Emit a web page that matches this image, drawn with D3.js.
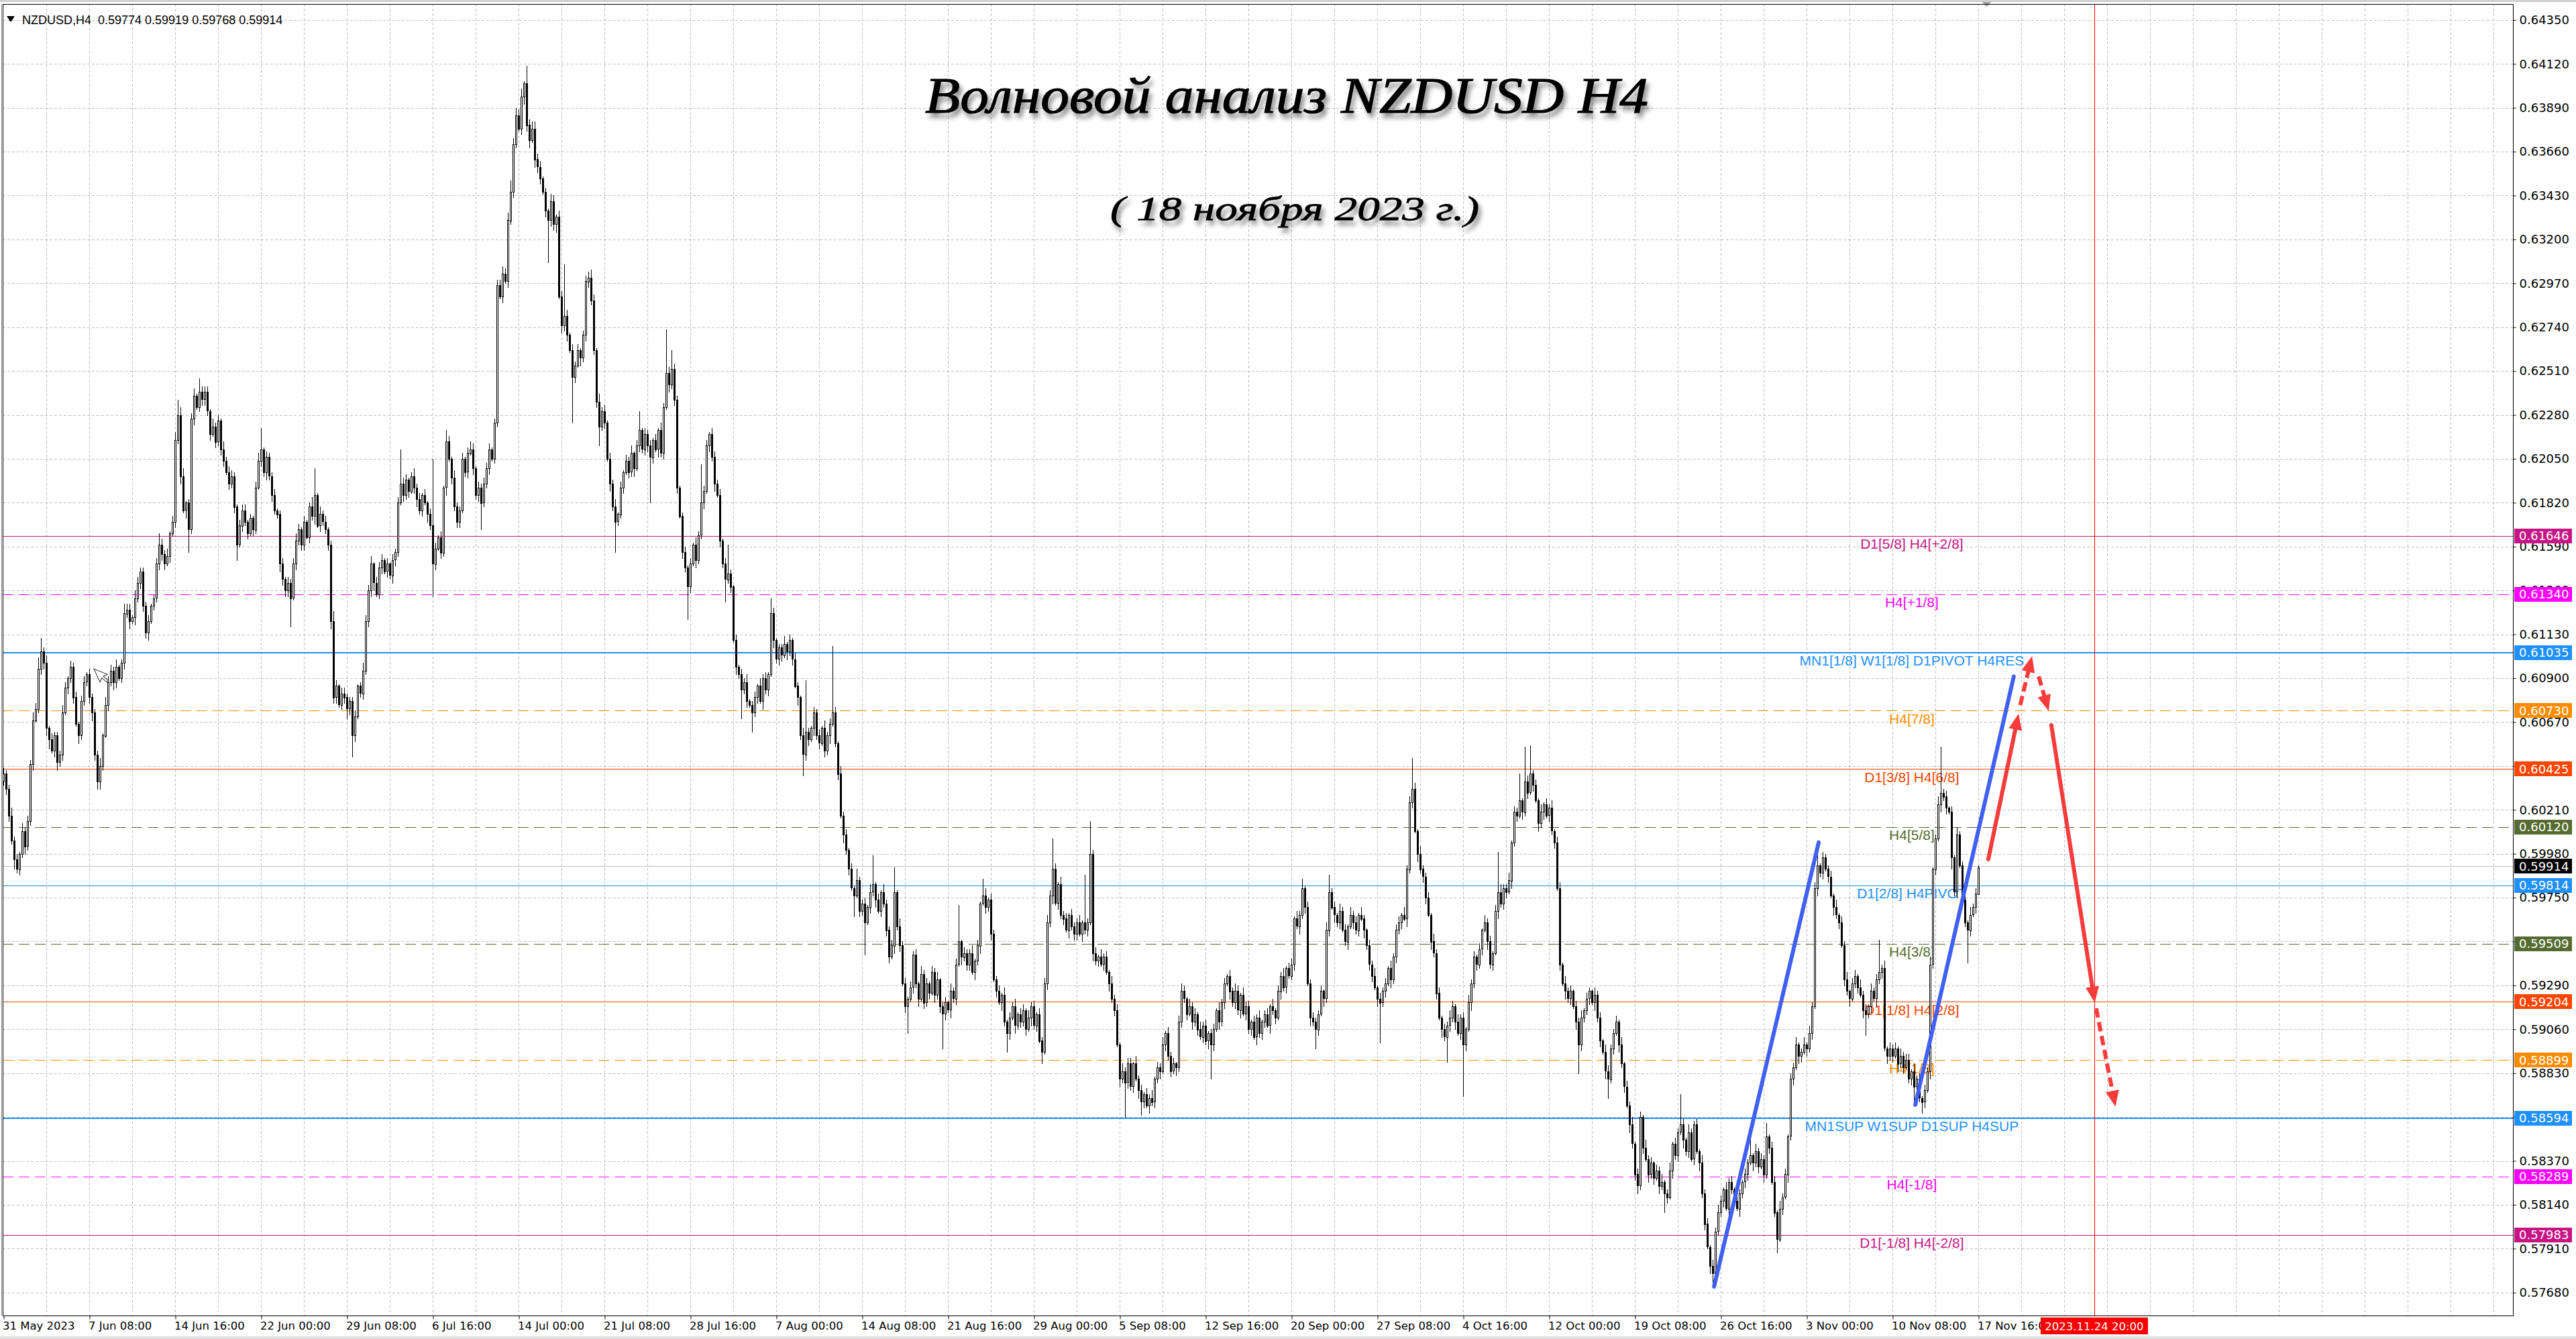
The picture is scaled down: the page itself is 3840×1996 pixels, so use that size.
<!DOCTYPE html>
<html><head><meta charset="utf-8">
<script src="https://cdn.jsdelivr.net/npm/d3@7"></script>
<style>html,body{margin:0;padding:0;background:#fff;overflow:hidden}</style>
</head><body><svg id="c" width="3840" height="1996"></svg>
<script>
// ---------------- DATA ----------------
const symbolHeader = "NZDUSD,H4  0.59774 0.59919 0.59768 0.59914";
const titleText = "Волновой анализ NZDUSD H4";
const subtitleText = "( 18 ноября 2023 г.)";
const firstOpen = 6036; // in 0.0001 units
// H4 closes, 0.0001 units, 31 May 2023 00:00 .. 17 Nov 2023 20:00
const closes = [
6040,6032,6018,6005,5995,5990,5998,6010,6002,6015,
6045,6068,6074,6095,6104,6098,6064,6058,6052,6060,
6046,6050,6072,6085,6090,6096,6080,6066,6060,6078,
6088,6092,6080,6072,6050,6036,6044,6060,6076,6088,
6094,6088,6096,6090,6098,6124,6126,6120,6122,6132,
6140,6146,6128,6114,6120,6128,6132,6150,6160,6155,
6150,6154,6166,6172,6215,6228,6196,6178,6182,6168,
6226,6238,6232,6240,6236,6240,6230,6218,6222,6214,
6225,6210,6204,6198,6192,6196,6180,6160,6170,6178,
6172,6166,6174,6168,6190,6204,6210,6198,6206,6196,
6186,6178,6176,6150,6142,6136,6140,6132,6150,6162,
6168,6160,6172,6164,6180,6175,6186,6170,6176,6172,
6168,6160,6120,6080,6086,6076,6082,6080,6074,6078,
6060,6070,6086,6082,6094,6120,6136,6150,6140,6134,
6148,6152,6146,6150,6144,6152,6156,6182,6192,6186,
6194,6188,6196,6190,6184,6178,6186,6182,6176,6170,
6150,6158,6164,6156,6190,6214,6205,6195,6180,6172,
6178,6205,6198,6208,6210,6200,6186,6190,6182,6192,
6200,6210,6205,6224,6296,6290,6302,6298,6330,6345,
6370,6385,6378,6395,6402,6380,6372,6378,6362,6358,
6352,6345,6335,6330,6340,6328,6332,6290,6275,6280,
6270,6262,6248,6254,6262,6258,6270,6298,6300,6288,
6262,6235,6222,6230,6224,6205,6192,6180,6172,6176,
6190,6198,6204,6198,6208,6200,6212,6220,6210,6218,
6212,6206,6215,6210,6220,6208,6232,6250,6244,6252,
6236,6190,6175,6156,6148,6138,6150,6160,6152,6165,
6182,6188,6212,6218,6206,6192,6186,6162,6150,6142,
6145,6138,6110,6096,6092,6084,6088,6078,6076,6072,
6080,6086,6078,6090,6084,6092,6124,6110,6100,6106,
6102,6108,6104,6110,6100,6086,6080,6060,6050,6062,
6058,6064,6072,6060,6056,6064,6052,6060,6066,6072,
6056,6040,6018,6008,6000,5990,5980,5976,5984,5968,
5972,5962,5970,5978,5982,5974,5968,5978,5972,5958,
5944,5950,5978,5960,5950,5930,5918,5922,5928,5945,
5930,5922,5935,5920,5930,5925,5936,5924,5932,5918,
5914,5920,5916,5926,5922,5940,5952,5944,5946,5940,
5946,5936,5942,5950,5972,5976,5970,5974,5956,5932,
5926,5920,5924,5910,5904,5912,5918,5908,5914,5910,
5916,5906,5912,5918,5908,5914,5900,5894,5930,5962,
5976,5990,5972,5982,5966,5964,5958,5966,5960,5956,
5962,5956,5962,5958,5962,5998,5946,5942,5944,5940,
5944,5936,5930,5922,5916,5898,5880,5884,5878,5888,
5876,5888,5880,5874,5868,5872,5866,5870,5868,5880,
5886,5884,5898,5904,5892,5884,5888,5886,5910,5926,
5922,5914,5918,5910,5914,5906,5902,5908,5900,5904,
5898,5906,5916,5910,5920,5930,5934,5926,5920,5926,
5916,5924,5914,5918,5906,5910,5902,5912,5904,5910,
5914,5908,5918,5916,5912,5926,5934,5928,5938,5934,
5940,5964,5960,5966,5980,5970,5930,5912,5910,5906,
5914,5926,5922,5958,5978,5970,5966,5962,5968,5958,
5952,5960,5966,5962,5958,5966,5964,5958,5950,5940,
5934,5928,5922,5920,5926,5930,5938,5932,5944,5958,
5962,5966,5964,5990,6025,6032,6010,5998,5990,5986,
5975,5966,5952,5946,5925,5912,5906,5902,5908,5912,
5918,5910,5904,5912,5898,5906,5920,5930,5944,5940,
5948,5958,5962,5952,5940,5946,5968,5978,5972,5980,
5978,5984,6004,6020,6018,6026,6020,6036,6030,6040,
6034,6026,6014,6020,6024,6018,6022,6010,6004,5980,
5940,5930,5926,5922,5926,5918,5910,5898,5912,5916,
5922,5926,5920,5924,5912,5900,5894,5884,5880,5896,
5904,5910,5898,5888,5876,5866,5856,5846,5830,5824,
5860,5844,5838,5830,5836,5828,5832,5824,5826,5820,
5818,5832,5846,5840,5852,5856,5848,5842,5852,5838,
5856,5842,5836,5820,5804,5792,5782,5778,5800,5810,
5816,5822,5812,5826,5822,5816,5812,5820,5826,5830,
5836,5840,5836,5842,5834,5838,5830,5850,5844,5826,
5810,5796,5812,5818,5830,5850,5880,5886,5898,5892,
5894,5898,5896,5904,5918,5980,5992,5988,5996,5990,
5986,5976,5970,5966,5962,5950,5932,5926,5922,5930,
5934,5928,5924,5916,5914,5918,5926,5922,5932,5936,
5938,5896,5892,5896,5892,5896,5888,5892,5886,5890,
5880,5884,5876,5880,5870,5868,5874,5884,5940,5990,
6006,6024,6030,6028,6022,6020,5996,5978,6008,5992,
5974,5962,5958,5966,5970,5977,5991];
// upper / lower wick lengths per bar, in 0.0001 units, base-36 digits
const upperWicks = (
"3224231423 2436724132 2243132313 3132224143 3241253314 3222312363 2413484412 3417333142 3142332133 312134b132 "+
"2312313234 313125e142 3125313322 2312433413 33131323i3 3124231313 z313163142 2313431323 3312334346 3434193443 "+
"312143133r 3132312334 3142313241 3132413a13 2313142n3a 3212313142 k331332313 f213132412 3142318312 241313214r "+
"213231423z 3142313162 2314f13142 23d1423132 3142313241 231423j132 2413194132 2314132413 3142313234 3g31423132 "+
"241p2h2314 2314231423 3142313241 3241323134 3142314231 2314231324 3142313241 2314132413 3142513232 2314923142 "+
"3142314213 2413231423 31423g3142 2314231324 3142314231 3142313l42 24132e1i3f 2314132413 3142313241 3214231432 "+
"2314132413 3142313241 24132g3142 2314231324 3142314213 2c14232713 3142313241 241423a132 2314132413 314231423h "+
"2413231423 3142313241 24o2313142 2314231").replace(/ /g,"");
const lowerWicks = (
"2332523242 2312334513 4231323142 2234344213 2431232414 2333412233 313132414c 2312332313 2331323813 2313213242 "+
"3224333f13 2331324132 2343312353 b312323341 2313243213 2313423142 h313241323 31231323e2 2312213132 3213434143 "+
"313m334143 31o3142332 23a23142g2 2313241323 3o31423142 33132h3142 231324132c 23142f231a 2314231423 31423142b3 "+
"3142313241 2314231b13 2h13241323 3142313e13 2413231423 i314231423 3142413231 3142a31423 2314231613 2413231423 "+
"3142314231 31423142i3 2314731423 2413231423 2314231324 i314231423 2413231423 3142314231 231423142a 3142314231 "+
"2413231423 314l231423 2314231423 31423142d3 2413r31423 2314231423 3142314231 3142413231 3142314f32 23142314a2 "+
"3142314234 231423142a 3142314231 3142314532 2314231423 3142314231 2713142314 3142314231 3142313241 2314b23142 "+
"3142314231 2383263142 3142316231 32h3130").replace(/ /g,"");

const priceTicks = [0.64350,0.64120,0.63890,0.63660,0.63430,0.63200,0.62970,0.62740,0.62510,0.62280,
  0.62050,0.61820,0.61590,0.61360,0.61130,0.60900,0.60670,0.60440,0.60210,0.59980,0.59750,0.59520,
  0.59290,0.59060,0.58830,0.58600,0.58370,0.58140,0.57910,0.57680];
const timeLabels = ["31 May 2023","7 Jun 08:00","14 Jun 16:00","22 Jun 00:00","29 Jun 08:00","6 Jul 16:00",
  "14 Jul 00:00","21 Jul 08:00","28 Jul 16:00","7 Aug 00:00","14 Aug 08:00","21 Aug 16:00","29 Aug 00:00",
  "5 Sep 08:00","12 Sep 16:00","20 Sep 00:00","27 Sep 08:00","4 Oct 16:00","12 Oct 00:00","19 Oct 08:00",
  "26 Oct 16:00","3 Nov 00:00","10 Nov 08:00","17 Nov 16:00"];
const timeLabelBars = [0,32,64,96,128,160,192,224,256,288,320,352,384,416,448,480,512,544,576,608,640,672,704,736];

const levelPrices = [0.61646,0.61340,0.61035,0.60730,0.60425,0.60120,0.59814,0.59509,0.59204,0.58899,0.58594,0.58289,0.57983];
const levelLabels = ["D1[5/8] H4[+2/8]","H4[+1/8]","MN1[1/8] W1[1/8] D1PIVOT H4RES","H4[7/8]","D1[3/8] H4[6/8]",
  "H4[5/8]","D1[2/8] H4PIVOT","H4[3/8]","D1[1/8] H4[2/8]","H4[1/8]","MN1SUP W1SUP D1SUP H4SUP","H4[-1/8]","D1[-1/8] H4[-2/8]"];
const currentPrice = 0.59914;

// wave lines: [bar, price] pairs
const waveLines = [
  [[637.4,0.57711],[676.4,0.60040]],
  [[712.4,0.58664],[749.1,0.60909]]
];
// forecast arrows: from [bar, price] to [bar, price]
const arrowFrom = [[739.6,0.59951],[751.5,0.60759],[758.4,0.60909],[763.1,0.60654],[779.8,0.59170]];
const arrowTo   = [[750.9,0.60714],[755.9,0.61016],[762.1,0.60728],[779.3,0.59199],[787.0,0.58654]];
const arrowDashed = [false,true,true,false,true];
const futureBar = 779.1;
const futureLabel = "2023.11.24 20:00";
const shiftBar = 739;
const cursorAt = [33.6, 0.60949]; // mouse pointer left on the chart [bar, price]

// ---------------- STYLES ----------------
const levelColors = ["#C71585","#FF00FF","#1E90FF","#FF8C00","#FF4500","#556B2F","#1E90FF","#556B2F","#FF4500","#FF8C00","#1E90FF","#FF00FF","#C71585"];
const levelDash   = [0,1,0,1,0,1,0,1,0,1,0,1,0];
const levelWidth  = [1,1,2,1,1,1,1,1,1,1,2,1,1];

// ---------------- LAYOUT ----------------
const W = 3840, H = 1996;
const plotL = 4, plotR = 3746, plotT = 6, plotB = 1961;
const x = d3.scaleLinear().domain([0, 1]).range([5.5, 9.5]);
const y = d3.scaleLinear().domain([0.575596, 0.644338]).range([plotB, plotT]);
const labelCenterBar = 711.1;

const svg = d3.select("#c");
const defs = svg.append("defs");
defs.append("clipPath").attr("id","plot").append("rect")
  .attr("x",plotL).attr("y",plotT).attr("width",plotR-plotL).attr("height",plotB-plotT);
const flt = defs.append("filter").attr("id","sh").attr("x","-10%").attr("y","-40%").attr("width","120%").attr("height","180%");
flt.append("feDropShadow").attr("dx",4).attr("dy",7).attr("stdDeviation",3.5).attr("flood-color","#000").attr("flood-opacity",0.45);

svg.append("rect").attr("width",W).attr("height",H).attr("fill","#fff");
svg.append("rect").attr("x",0).attr("y",0).attr("width",W).attr("height",3).attr("fill","#d0d0d0");
svg.append("rect").attr("x",0).attr("y",H-4).attr("width",W).attr("height",4).attr("fill","#e0e0e0");

const plot = svg.append("g").attr("clip-path","url(#plot)");

// grid
const grid = plot.append("g").attr("shape-rendering","crispEdges");
grid.selectAll("line.h").data(priceTicks).join("line")
  .attr("x1",plotL).attr("x2",plotR)
  .attr("y1",d=>Math.round(y(d))+0.5).attr("y2",d=>Math.round(y(d))+0.5)
  .attr("stroke","#bdbdbd").attr("stroke-dasharray","4,3");
const vBars = d3.range(16, 936, 16);
grid.selectAll("line.v").data(vBars).join("line")
  .attr("x1",d=>x(d)).attr("x2",d=>x(d))
  .attr("y1",plotT).attr("y2",plotB)
  .attr("stroke","#bdbdbd").attr("stroke-dasharray","4,3");

// levels
const lv = plot.append("g").attr("shape-rendering","crispEdges");
levelPrices.forEach((p,i)=>{
  const yy = Math.round(y(p)) + (levelWidth[i]===1?0.5:0);
  lv.append("line").attr("x1",plotL).attr("x2",plotR).attr("y1",yy).attr("y2",yy)
    .attr("stroke",levelColors[i]).attr("stroke-width",levelWidth[i])
    .attr("stroke-dasharray",levelDash[i]?"16,8":null);
});
// current price line
lv.append("line").attr("x1",plotL).attr("x2",plotR)
  .attr("y1",Math.round(y(currentPrice))+0.5).attr("y2",Math.round(y(currentPrice))+0.5)
  .attr("stroke","#c0c0c0");
// future time line
lv.append("line").attr("x1",Math.round(x(futureBar))+0.5).attr("x2",Math.round(x(futureBar))+0.5)
  .attr("y1",plotT).attr("y2",plotB).attr("stroke","#FF0000");

// level labels
const lt = plot.append("g").attr("font-family","'Liberation Sans', Arial, sans-serif").attr("font-size",21);
levelPrices.forEach((p,i)=>{
  lt.append("text").attr("x",x(labelCenterBar)).attr("y",y(p)+12)
    .attr("text-anchor","middle").attr("dominant-baseline","central")
    .attr("fill",levelColors[i]).text(levelLabels[i]);
});

// candles
const bars = closes.map((c,i)=>{
  const o = i ? closes[i-1] : firstOpen;
  const u = parseInt(upperWicks[i]||"0",36), d = parseInt(lowerWicks[i]||"0",36);
  return {i, o:o/1e4, c:c/1e4, h:(Math.max(o,c)+u)/1e4, l:(Math.min(o,c)-d)/1e4};
});
const cg = plot.append("g").attr("shape-rendering","crispEdges");
cg.selectAll("line").data(bars).join("line")
  .attr("x1",d=>x(d.i)).attr("x2",d=>x(d.i))
  .attr("y1",d=>Math.round(y(d.h))).attr("y2",d=>Math.round(y(d.l))+1)
  .attr("stroke","#000");
cg.selectAll("rect").data(bars).join("rect")
  .attr("x",d=>x(d.i)-1).attr("width",2)
  .attr("y",d=>Math.round(Math.min(y(d.o),y(d.c)))+0.5)
  .attr("height",d=>Math.max(0, Math.round(Math.abs(y(d.o)-y(d.c)))))
  .attr("fill",d=>d.c>=d.o?"#fff":"#000").attr("stroke","#000");

// wave lines
const line = d3.line().x(d=>x(d[0])).y(d=>y(d[1]));
plot.append("g").selectAll("path").data(waveLines).join("path")
  .attr("d",line).attr("fill","none").attr("stroke","#4060F4").attr("stroke-width",6).attr("stroke-linecap","round");

// forecast arrows
const ag = plot.append("g");
const red = "#F83B3B";
arrowFrom.forEach((f,i)=>{
  const x1=x(f[0]), y1=y(f[1]), x2=x(arrowTo[i][0]), y2=y(arrowTo[i][1]);
  const a=Math.atan2(y2-y1,x2-x1), L=24, hw=10;
  const bx=x2-L*Math.cos(a), by=y2-L*Math.sin(a);
  ag.append("line").attr("x1",x1).attr("y1",y1)
    .attr("x2",bx+4*Math.cos(a)).attr("y2",by+4*Math.sin(a))
    .attr("stroke",red).attr("stroke-width",6)
    .attr("stroke-linecap",arrowDashed[i]?"butt":"round")
    .attr("stroke-dasharray",arrowDashed[i]?"14,7":null);
  ag.append("path")
    .attr("d",`M${x2},${y2}L${bx+hw*Math.sin(a)},${by-hw*Math.cos(a)}L${bx-hw*Math.sin(a)},${by+hw*Math.cos(a)}Z`)
    .attr("fill",red);
});

// mouse pointer
const cx0 = x(cursorAt[0]), cy0 = y(cursorAt[1]);
plot.append("path")
  .attr("d","M0,0L0,22L5,17L9,26L12,25L8,16L15,16Z")
  .attr("transform",`translate(${cx0},${cy0}) rotate(-25)`)
  .attr("fill","#fff").attr("stroke","#333").attr("stroke-width",1);

// titles
svg.append("text").attr("x",1918).attr("y",168).attr("text-anchor","middle")
  .attr("font-family","'Liberation Serif', 'DejaVu Serif', serif").attr("font-style","italic")
  .attr("font-size",76).attr("fill","#000").attr("stroke","#000").attr("stroke-width",1.2)
  .attr("textLength",1078).attr("lengthAdjust","spacingAndGlyphs")
  .attr("filter","url(#sh)").text(titleText);
svg.append("text").attr("x",1930).attr("y",328).attr("text-anchor","middle")
  .attr("font-family","'Liberation Serif', 'DejaVu Serif', serif").attr("font-style","italic")
  .attr("font-size",50).attr("fill","#000").attr("stroke","#000").attr("stroke-width",0.8)
  .attr("textLength",550).attr("lengthAdjust","spacingAndGlyphs")
  .attr("filter","url(#sh)").text(subtitleText);

// header
svg.append("path").attr("d","M10,24L22,24L16,33Z").attr("fill","#000");
svg.append("text").attr("x",33).attr("y",36).attr("font-family","'Liberation Sans', Arial, sans-serif")
  .attr("font-size",18).attr("fill","#000").attr("xml:space","preserve").text(symbolHeader);

// shift marker
svg.append("path").attr("d",`M${x(shiftBar)-7},3L${x(shiftBar)+7},3L${x(shiftBar)},10Z`).attr("fill","#a0a0a0");

// frame
svg.append("rect").attr("x",plotL+0.5).attr("y",plotT+0.5).attr("width",plotR-plotL).attr("height",plotB-plotT)
  .attr("fill","none").attr("stroke","#000").attr("shape-rendering","crispEdges");
svg.append("line").attr("x1",2.5).attr("x2",2.5).attr("y1",plotT).attr("y2",plotB).attr("stroke","#808080");

// right axis
const ay = svg.append("g").attr("transform",`translate(${plotR+0.5},0)`)
  .call(d3.axisRight(y).tickValues(priceTicks).tickFormat(d3.format(".5f")).tickSize(4).tickPadding(5));
ay.select(".domain").remove();
ay.selectAll("text").attr("font-family","'DejaVu Sans', sans-serif").attr("font-size",18).attr("fill","#000");
ay.selectAll("line").attr("stroke","#000");

// bottom axis
const ax = svg.append("g").attr("transform",`translate(0,${plotB+0.5})`)
  .call(d3.axisBottom(x).tickValues(timeLabelBars).tickFormat((d,i)=>timeLabels[i]).tickSize(5).tickPadding(4));
ax.select(".domain").remove();
ax.selectAll("text").attr("font-family","'DejaVu Sans', sans-serif").attr("font-size",16.5).attr("fill","#000")
  .attr("text-anchor","start").attr("dx",-2);
ax.selectAll("line").attr("stroke","#000");

// axis level badges
const bg = svg.append("g").attr("font-family","'DejaVu Sans', sans-serif").attr("font-size",18);
const badgeP = levelPrices.concat([currentPrice]);
const badgeC = levelColors.concat(["#000"]);
badgeP.forEach((p,i)=>{
  const yy = y(p);
  bg.append("rect").attr("x",plotR+2).attr("y",Math.round(yy)-11).attr("width",86).attr("height",22).attr("fill",badgeC[i]);
  bg.append("text").attr("x",plotR+9).attr("y",yy).attr("dominant-baseline","central").attr("fill","#fff")
    .text(d3.format(".5f")(p));
});

// future time badge
const fx = x(futureBar);
svg.append("rect").attr("x",fx-80).attr("y",plotB+3).attr("width",160).attr("height",25).attr("fill","#FF0000");
svg.append("text").attr("x",fx).attr("y",plotB+16).attr("text-anchor","middle").attr("dominant-baseline","central")
  .attr("font-family","'DejaVu Sans', sans-serif").attr("font-size",16.5).attr("fill","#fff").text(futureLabel);
</script></body></html>
